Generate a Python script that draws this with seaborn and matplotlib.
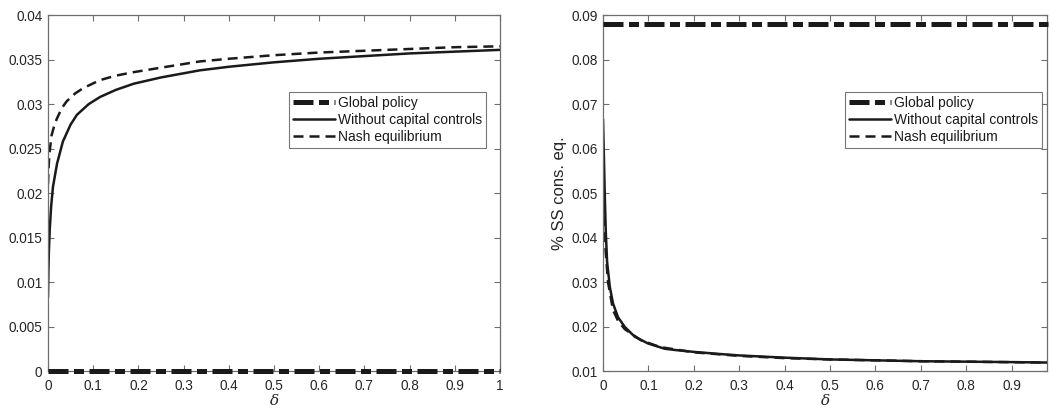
import matplotlib
matplotlib.use("Agg")
import matplotlib.pyplot as plt
import seaborn as sns
import numpy as np

sns.set_theme(style="white")
plt.rcParams['font.family'] = ['Liberation Sans', 'DejaVu Sans']
plt.rcParams['mathtext.fontset'] = 'dejavuserif'

# ---- data: left panel ----
left_global_x = [0.0, 1.0]
left_global_y = [0.0, 0.0]
left_free_x = [0, 0.001, 0.002, 0.004, 0.007, 0.011, 0.02, 0.033, 0.05, 0.064, 0.09, 0.115,
               0.15, 0.19, 0.25, 0.336, 0.4, 0.5, 0.6, 0.7, 0.8, 0.9, 1.0]
left_free_y = [0.0083, 0.0115, 0.0135, 0.0160, 0.0185, 0.0207, 0.0233, 0.0258, 0.0277, 0.0288,
               0.0300, 0.0308, 0.0316, 0.0323, 0.0330, 0.0338, 0.0342, 0.0347, 0.0351, 0.0354,
               0.0357, 0.0359, 0.0361]
left_nash_x = [0, 0.001, 0.002, 0.004, 0.008, 0.015, 0.02, 0.03, 0.041, 0.06, 0.078, 0.115,
               0.15, 0.19, 0.25, 0.336, 0.4, 0.5, 0.6, 0.7, 0.8, 0.9, 1.0]
left_nash_y = [0.0210, 0.0225, 0.0235, 0.0248, 0.0265, 0.0278, 0.0284, 0.0295, 0.0303, 0.0312,
               0.0318, 0.0327, 0.0332, 0.0336, 0.0341, 0.0348, 0.0351, 0.0355, 0.0358, 0.0360,
               0.0362, 0.0364, 0.0365]

# ---- data: right panel ----
right_global_x = [0.0, 0.98]
right_global_y = [0.088, 0.088]
right_free_x = [0, 0.002, 0.004, 0.006, 0.009, 0.015, 0.022, 0.033, 0.048, 0.07, 0.099, 0.136,
                0.161, 0.2, 0.26, 0.3, 0.4, 0.5, 0.6, 0.7, 0.8, 0.9, 0.98]
right_free_y = [0.0666, 0.058, 0.049, 0.0416, 0.0345, 0.0289, 0.0252, 0.0221, 0.0199, 0.0177,
                0.0162, 0.0150, 0.0147, 0.0143, 0.0138, 0.0135, 0.0130, 0.0126, 0.0124, 0.0122,
                0.0121, 0.0120, 0.0119]
right_nash_x = [0, 0.002, 0.005, 0.011, 0.022, 0.033, 0.048, 0.084, 0.125, 0.2, 0.3,
                0.4, 0.5, 0.7, 0.98]
right_nash_y = [0.052, 0.046, 0.038, 0.0300, 0.0237, 0.0213, 0.0194, 0.0169, 0.0154,
                0.0142, 0.0134, 0.0129, 0.0126, 0.0122, 0.0119]

labels = ["Global policy", "Without capital controls", "Nash equilibrium"]

fig = plt.figure(figsize=(10.5, 4.09), dpi=100)
axL = fig.add_axes([0.0457, 0.0929, 0.4305, 0.870])
axR = fig.add_axes([0.5743, 0.0929, 0.4229, 0.870])

global_ls = (0, (4.0, 1.1, 2.0, 1.1))
nash_ls = (0, (4.0, 2.4))

def draw(ax, gx, gy, fx, fy, nx, ny):
    sns.lineplot(x=gx, y=gy, ax=ax, color='k', linewidth=3.6, linestyle=global_ls,
                 label=labels[0], errorbar=None, sort=False)
    ax.lines[-1].set_clip_on(False)
    ax.lines[-1].set_zorder(5)
    sns.lineplot(x=fx, y=fy, ax=ax, color='k', linewidth=1.8, linestyle='-',
                 label=labels[1], errorbar=None, sort=False)
    sns.lineplot(x=nx, y=ny, ax=ax, color='k', linewidth=1.8, linestyle=nash_ls,
                 label=labels[2], errorbar=None, sort=False)

draw(axL, left_global_x, left_global_y, left_free_x, left_free_y, left_nash_x, left_nash_y)
draw(axR, right_global_x, right_global_y, right_free_x, right_free_y, right_nash_x, right_nash_y)

spine_c = '#6e6e6e'
text_c = '#262626'
for ax in (axL, axR):
    for s in ax.spines.values():
        s.set_color(spine_c)
        s.set_linewidth(0.9)
    ax.tick_params(direction='in', which='both', top=True, right=True, bottom=True, left=True,
                   length=4, width=0.8, color=spine_c, labelsize=9.8, labelcolor=text_c)
    ax.tick_params(axis='x', pad=6)
    ax.tick_params(axis='y', pad=4)
    ax.set_xlabel(r'$\delta$', fontsize=11, color=text_c, labelpad=0)

axL.set_xlim(0, 1)
axL.set_ylim(0, 0.04)
axL.set_xticks(np.arange(0, 1.01, 0.1))
axL.set_xticklabels(['0', '0.1', '0.2', '0.3', '0.4', '0.5', '0.6', '0.7', '0.8', '0.9', '1'])
axL.set_yticks(np.arange(0, 0.0401, 0.005))
axL.set_yticklabels(['0', '0.005', '0.01', '0.015', '0.02', '0.025', '0.03', '0.035', '0.04'])

axR.set_xlim(0, 0.978)
axR.set_ylim(0.01, 0.09)
axR.set_xticks(np.arange(0, 0.91, 0.1))
axR.set_xticklabels(['0', '0.1', '0.2', '0.3', '0.4', '0.5', '0.6', '0.7', '0.8', '0.9'])
axR.set_yticks(np.arange(0.01, 0.0901, 0.01))
axR.set_yticklabels(['0.01', '0.02', '0.03', '0.04', '0.05', '0.06', '0.07', '0.08', '0.09'])
axR.set_ylabel('% SS cons. eq.', fontsize=12, color=text_c, labelpad=3)

for ax, anchor in ((axL, (0.969, 0.784)), (axR, (0.989, 0.784))):
    leg = ax.legend(loc='upper right', bbox_to_anchor=anchor, fontsize=10, frameon=True,
                    fancybox=False, shadow=False, handlelength=3.0, handletextpad=0.2,
                    borderpad=0.3, labelspacing=0.22, borderaxespad=0)
    leg.get_frame().set_edgecolor('#555555')
    leg.get_frame().set_linewidth(0.8)
    for t in leg.get_texts():
        t.set_color('k')

fig.savefig('out.png', dpi=100)
